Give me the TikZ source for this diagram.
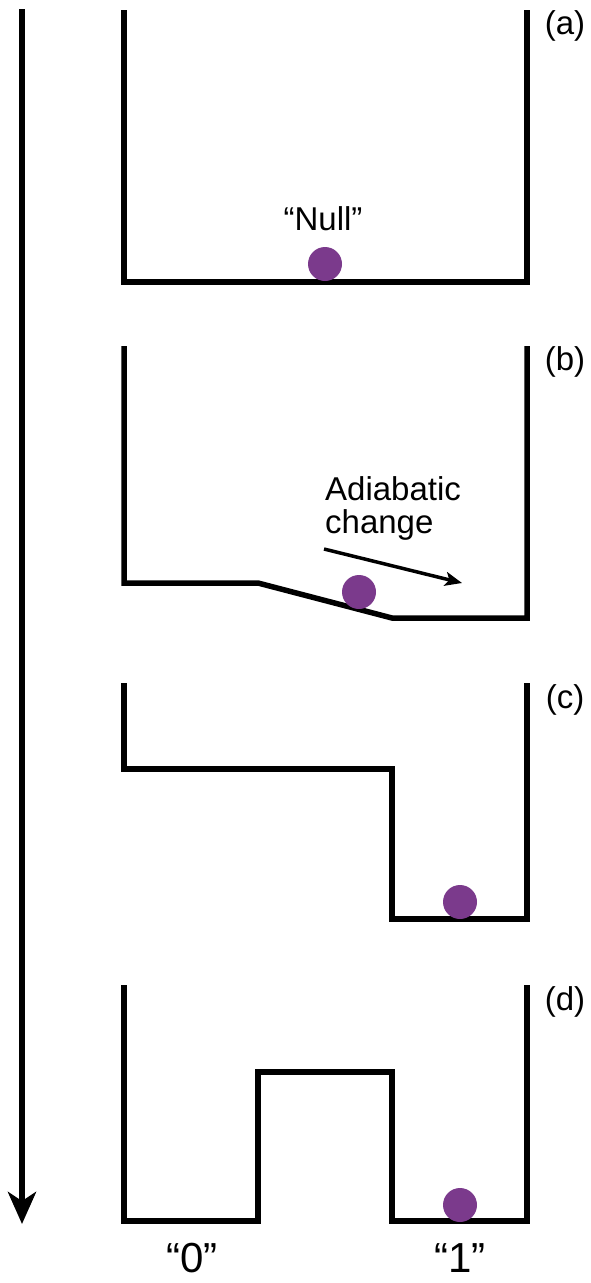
\documentclass[tikz,border=0pt]{standalone}
\usepackage{fontspec}
\setmainfont{Liberation Sans}
\usetikzlibrary{arrows.meta}
\definecolor{ballc}{RGB}{123,58,140}
\begin{document}
\begin{tikzpicture}[x=1pt,y=-1pt,
  wall/.style={line width=5.5pt,line join=miter,line cap=butt},
  ball/.style={circle,fill=ballc,minimum size=34pt,inner sep=0pt},
  lab/.style={font=\fontsize{33}{37}\selectfont,inner sep=0pt},
  biglab/.style={font=\fontsize{42}{46}\selectfont,inner sep=0pt}]
\useasboundingbox (0,0) rectangle (590,1283);
% time arrow
\coordinate (t0) at (22,9);
\coordinate (t1) at (22,1224);
\draw[line width=6pt,-{Stealth[length=32pt,width=28pt,inset=9pt]}] (t0) -- (t1);
% (a)
\draw[wall] (124,10) -- (124,282) -- (527,282) -- (527,10);
\node[ball] (ba) at (325,264) {};
\node[lab] (nl) at (323,219) {“Null”};
\node[lab] (la) at (565,26) {(a)};
% (b)
\draw[wall] (124,346) -- (124,583) -- (258,583) -- (392,618) -- (527,618) -- (527,346);
\node[ball] (bb) at (359,592) {};
\node[lab,align=left,anchor=north west] (ad) at (325,476) {Adiabatic\\[-4pt]change};
\coordinate (a0) at (324,549);
\coordinate (a1) at (462,583);
\draw[line width=3.5pt,-{Stealth[length=17pt,width=14pt,inset=4pt]}] (a0) -- (a1);
\node[lab] (lb) at (565,362) {(b)};
% (c)
\draw[wall] (124,683) -- (124,769) -- (392,769) -- (392,919) -- (527,919) -- (527,683);
\node[ball] (bc) at (460,902) {};
\node[lab] (lc) at (565,700) {(c)};
% (d)
\draw[wall] (124,985) -- (124,1221) -- (258,1221) -- (258,1072) -- (392,1072) -- (392,1221) -- (527,1221) -- (527,985);
\node[ball] (bd) at (460,1205) {};
\node[lab] (ld) at (565,1002) {(d)};
\node[biglab] (z0) at (192,1258) {“0”};
\node[biglab] (z1) at (460,1258) {“1”};
\end{tikzpicture}
\end{document}
